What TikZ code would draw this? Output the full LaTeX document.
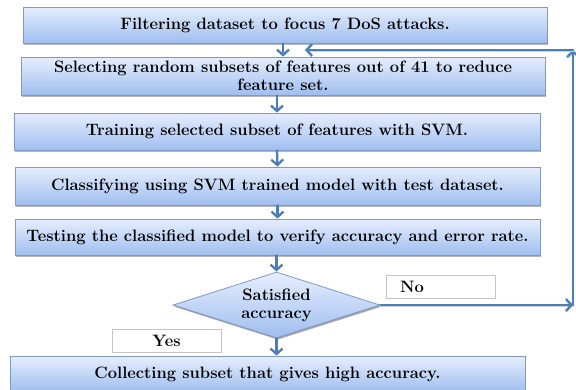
\documentclass[tikz,border=0pt]{standalone}
\usetikzlibrary{arrows.meta,shapes.geometric,shadows}

\definecolor{flowblue}{HTML}{4A7EBB}
\definecolor{boxtop}{HTML}{E6EEFD}
\definecolor{boxbot}{HTML}{9FBEEF}
\definecolor{boxline}{HTML}{7F98C4}
\definecolor{tagline}{HTML}{C4C4C4}

\newcommand\flowfont{\fontsize{16.5}{18}\selectfont\bfseries}

\tikzset{
  stepbox/.style={
    draw=boxline, line width=0.8pt,
    top color=boxtop, bottom color=boxbot,
    drop shadow={shadow xshift=1.4pt, shadow yshift=-1.8pt, opacity=0.4, fill=black!70},
    inner sep=0pt, align=center, font=\flowfont
  },
  decisionbox/.style={
    stepbox, diamond, aspect=3,
    drop shadow={shadow xshift=0.8pt, shadow yshift=-1.2pt, opacity=0.25, fill=black!60}
  },
  tagbox/.style={
    draw=tagline, line width=0.7pt, fill=white,
    inner sep=0pt, font=\flowfont
  },
  flow/.style={
    draw=flowblue, line width=2.3pt, line cap=round,
    -{Straight Barb[length=5.5pt,width=12pt,line width=2.3pt]}
  },
  loopflow/.style={
    flow,
    preaction={draw=black!18, transform canvas={shift={(0.6pt,-1.6pt)}}}
  }
}

\begin{document}
\begin{tikzpicture}[x=1pt,y=-1pt]
  \useasboundingbox (0,0) rectangle (576,389);

  % process steps
  \node[stepbox, minimum width=524pt, minimum height=36pt] (b1) at (285,25)
    {Filtering dataset to focus 7 DoS attacks.};
  \node[stepbox, minimum width=524pt, minimum height=38pt] (b2) at (283,76)
    {Selecting random subsets of features out of 41 to reduce\\ feature set.};
  \node[stepbox, minimum width=526pt, minimum height=37pt] (b3) at (277,131.5)
    {Training selected subset of features with SVM.};
  \node[stepbox, minimum width=525pt, minimum height=38pt] (b4) at (277.5,186)
    {Classifying using SVM trained model with test dataset.};
  \node[stepbox, minimum width=525pt, minimum height=36pt] (b5) at (277.5,237)
    {Testing the classified model to verify accuracy and error rate.};

  % decision
  \node[decisionbox, minimum width=207pt, minimum height=66pt] (dec) at (276.5,305)
    {Satisfied\\ accuracy};

  % final step
  \node[stepbox, minimum width=515pt, minimum height=36pt] (b6) at (267.5,374)
    {Collecting subset that gives high accuracy.};

  % branch labels
  \node[tagbox, minimum width=109pt, minimum height=23pt, text width=81pt,
        align=left, inner xsep=14pt] (no) at (440.5,286.5) {No};
  \node[tagbox, minimum width=109pt, minimum height=23pt, align=center] (yes) at (166.5,340.5) {Yes};

  % main flow
  \draw[flow] (b1.south -| b2.north) -- (b2.north);
  \draw[flow] (b2.south -| b3.north) -- (b3.north);
  \draw[flow] (b3.south) -- (b4.north);
  \draw[flow] (b4.south) -- (b5.north);
  \draw[flow] (b5.south -| dec.north) -- (dec.north);
  \draw[flow] (dec.south) -- (dec.south |- b6.north);

  % loop back when accuracy is not satisfied
  \coordinate (cr) at (573,305);
  \coordinate (ct) at (573,50);
  \coordinate (tip) at (305,50);
  \draw[loopflow] (dec.east) -- (cr);
  \draw[loopflow] (cr) -- (ct);
  \draw[loopflow] (ct) -- (tip);
\end{tikzpicture}
\end{document}
